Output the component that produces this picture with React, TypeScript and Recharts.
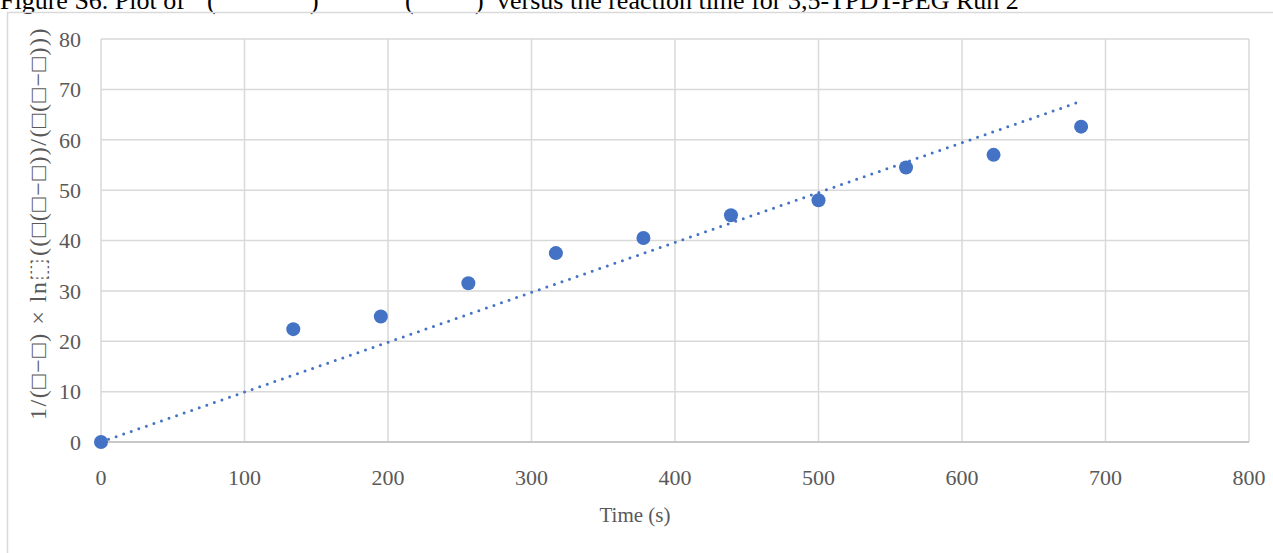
import React from 'react';
import { ScatterChart, Scatter, XAxis, YAxis, CartesianGrid, ReferenceLine } from 'recharts';

// Run 2 readings (time in s, transformed conversion)
const timeS = [0, 134, 195, 256, 317, 378, 439, 500, 561, 622, 683];
const kValues = [0, 22.4, 24.9, 31.5, 37.5, 40.5, 45.0, 48.0, 54.5, 57.0, 62.6];
const xTicks = [0, 100, 200, 300, 400, 500, 600, 700, 800];
const yTicks = [0, 10, 20, 30, 40, 50, 60, 70, 80];

const points = timeS.map((t, i) => ({ x: t, y: kValues[i] }));

// linear trendline forced through the origin (least squares)
const sxy = points.reduce((s, p) => s + p.x * p.y, 0);
const sxx = points.reduce((s, p) => s + p.x * p.x, 0);
const slope = sxy / sxx;
const lastT = timeS[timeS.length - 1];

const BLUE = '#4472C4';
const GRID = '#D9D9D9';
const TXT = '#595959';
const SERIF = '"Liberation Serif", "Times New Roman", serif';

const Dot = (props: any) => <circle cx={props.cx} cy={props.cy} r={7} fill={BLUE} />;

const App: React.FC = () => {
  return (
    <div style={{ position: 'absolute', left: 0, top: 0, width: 1273, height: 553, overflow: 'hidden', background: '#fff' }}>
      <ScatterChart width={1273} height={553} margin={{ top: 39, right: 24, bottom: 51, left: 41 }}>
        <CartesianGrid stroke={GRID} strokeWidth={1.5} />
        <XAxis
          type="number"
          dataKey="x"
          domain={[0, 800]}
          ticks={xTicks}
          height={60}
          tickLine={false}
          tickSize={0}
          tickMargin={27}
          axisLine={{ stroke: '#BFBFBF', strokeWidth: 1.5 }}
          tick={{ fill: TXT, fontSize: 22, fontFamily: SERIF }}
        />
        <YAxis
          type="number"
          dataKey="y"
          domain={[0, 80]}
          ticks={yTicks}
          width={60}
          tickLine={false}
          tickSize={0}
          tickMargin={20}
          axisLine={false}
          tick={{ fill: TXT, fontSize: 22, fontFamily: SERIF }}
        />
        <ReferenceLine
          segment={[{ x: 0, y: 0 }, { x: lastT, y: slope * lastT }]}
          stroke={BLUE}
          strokeWidth={3}
          strokeDasharray="0 8"
          strokeLinecap="round"
        />
        <Scatter data={points} fill={BLUE} shape={Dot} isAnimationActive={false} />
      </ScatterChart>
      <svg width={1273} height={553} style={{ position: 'absolute', left: 0, top: 0, pointerEvents: 'none' }}>
        <defs>
          <clipPath id="chartArea">
            <rect x={7} y={13} width={1266} height={540} />
          </clipPath>
        </defs>
        <text y={9} fontSize={26} fontFamily={SERIF} fill="#000">
          <tspan x={0}>Figure S6. Plot of</tspan>
          <tspan x={207}>(</tspan>
          <tspan x={310}>)</tspan>
          <tspan x={405}>(</tspan>
          <tspan x={475}>)</tspan>
          <tspan x={497}>versus the reaction time for 3,5-TPDT-PEG Run 2</tspan>
        </text>
        <line x1={7.5} y1={12} x2={7.5} y2={553} stroke={GRID} strokeWidth={1.5} />
        <line x1={7} y1={12.5} x2={1273} y2={12.5} stroke={GRID} strokeWidth={1.5} />
        <g clipPath="url(#chartArea)">
          <text transform="rotate(-90)" x={-420} y={46} fontSize={24} letterSpacing={1.5} fontFamily={SERIF} fill={TXT}>
            1/(□−□) × ln⬚((□(□−□))/(□(□−□)))
          </text>
        </g>
        <text x={635} y={522} textAnchor="middle" fontSize={21} fontFamily={SERIF} fill={TXT}>
          Time (s)
        </text>
      </svg>
    </div>
  );
};

export default App;
